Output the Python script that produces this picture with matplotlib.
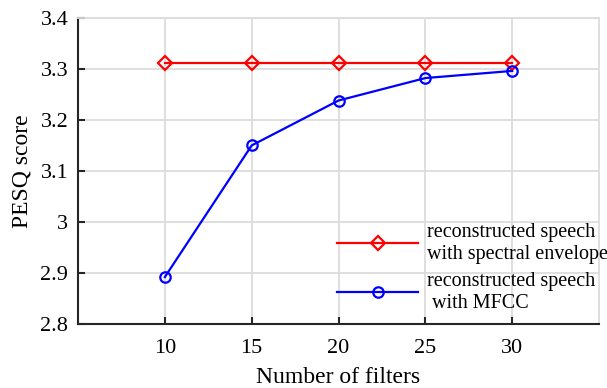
import numpy as np
import matplotlib.pyplot as plt

plt.rcParams['font.family'] = ['Liberation Serif', 'DejaVu Serif']

filters = [10, 15, 20, 25, 30]
pesq_envelope = [3.311, 3.311, 3.311, 3.311, 3.311]
pesq_mfcc = [2.892, 3.150, 3.238, 3.282, 3.296]
labels = ['reconstructed speech\nwith spectral envelope',
          'reconstructed speech\n with MFCC']

fig = plt.figure(figsize=(6.07, 3.88), dpi=100)
ax = fig.add_axes([0.1285, 0.165, 0.8585, 0.789])

ax.plot(filters, pesq_envelope, color='red', lw=1.6, marker='D', ms=7,
        mfc='none', mew=1.6, label=labels[0])
ax.plot(filters, pesq_mfcc, color='blue', lw=1.6, marker='o', ms=7.5,
        mfc='none', mew=1.6, label=labels[1])

ax.set_xlim(5, 35)
ax.set_ylim(2.8, 3.4)
ax.set_xticks([10, 15, 20, 25, 30])
ax.set_yticks([2.8, 2.9, 3.0, 3.1, 3.2, 3.3, 3.4])
ax.set_yticklabels(['2.8', '2.9', '3', '3.1', '3.2', '3.3', '3.4'])
ax.grid(True, color='#dcdcdc', lw=1.3)
ax.set_axisbelow(True)
ax.tick_params(direction='in', length=5, width=1.5, labelsize=16, color='#262626')
ax.tick_params(axis='y', pad=7)
ax.tick_params(axis='x', pad=11)
for s in ['top', 'right']:
    ax.spines[s].set_color('#dcdcdc')
    ax.spines[s].set_linewidth(1.3)
for s in ['left', 'bottom']:
    ax.spines[s].set_color('#262626')
    ax.spines[s].set_linewidth(1.5)

ax.set_xlabel('Number of filters', fontsize=17, labelpad=6)
ax.set_ylabel('PESQ score', fontsize=17, labelpad=6)

ax.legend(loc='lower right', bbox_to_anchor=(1.052, -0.022), frameon=False,
          fontsize=14.5, handlelength=4.0, labelspacing=0.4, handletextpad=0.45)

fig.savefig('out.png', dpi=100)
